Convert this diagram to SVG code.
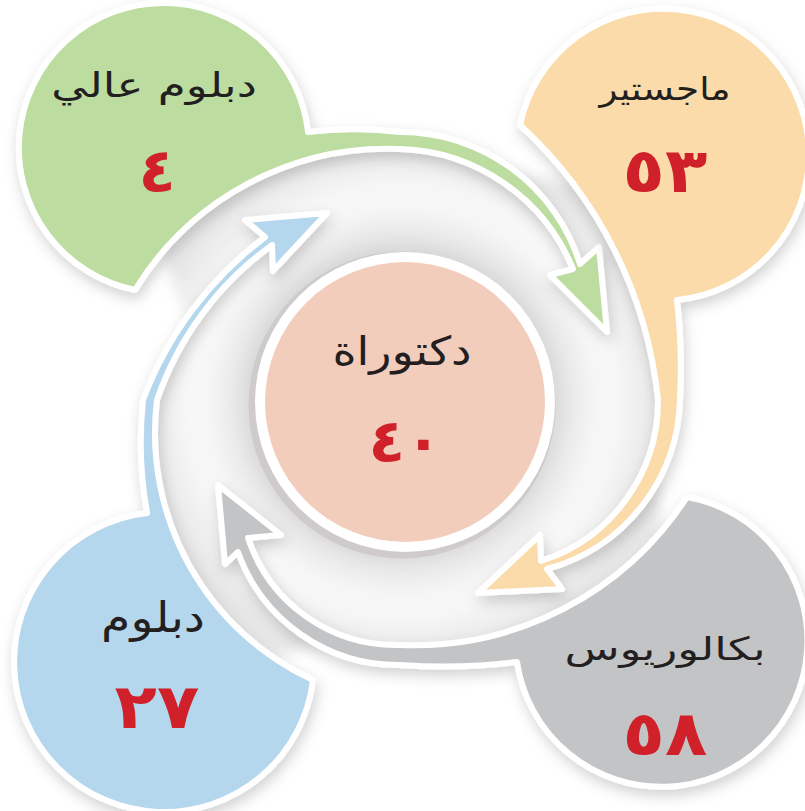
<svg xmlns="http://www.w3.org/2000/svg" width="805" height="811" viewBox="0 0 805 811">
<style>
.petal{stroke:#ffffff;stroke-width:6;stroke-linejoin:round;filter:url(#sh)}
.lbl{font-family:"DejaVu Sans",sans-serif;fill:#231f20;text-anchor:middle}
.num{font-family:"DejaVu Sans",sans-serif;font-weight:bold;fill:#d0202a;text-anchor:middle}
</style>
<defs>
<filter id="sh" x="-20%" y="-20%" width="140%" height="140%">
<feDropShadow dx="2" dy="6" stdDeviation="7" flood-color="#000" flood-opacity="0.18"/>
</filter>
<filter id="soft" x="-10%" y="-10%" width="120%" height="120%">
<feGaussianBlur stdDeviation="7"/>
</filter>
<radialGradient id="ring" gradientUnits="userSpaceOnUse" cx="402" cy="402" r="300">
<stop offset="0.5" stop-color="#d6d6d6"/>
<stop offset="0.54" stop-color="#e4e4e4"/>
<stop offset="0.62" stop-color="#f3f3f3"/>
<stop offset="0.69" stop-color="#f9f9f9"/>
<stop offset="0.78" stop-color="#f0f0f0"/>
<stop offset="0.88" stop-color="#e5e5e5"/>
<stop offset="1" stop-color="#eeeeee"/>
</radialGradient>
</defs>
<rect width="805" height="811" fill="#ffffff"/>
<g id="ring-bg">
<path filter="url(#soft)" fill="url(#ring)" d="M160 245 A303 303 0 0 1 400 141 A194 194 0 0 1 500 170 L585 185 A442 442 0 0 1 668 400 A180 180 0 0 1 654 470 L665 545 A336 336 0 0 1 400 655 A164 164 0 0 1 330 641 L265 660 A282 282 0 0 1 150 400 A340 340 0 0 1 188 325 Z"/>
</g>
<g id="connectors">
<path id="green-arrow" class="petal" fill="#bcdca0" d="M308 132 A400 400 0 0 1 400 132 A188 188 0 0 1 580 264 L599 247 L607 332 L550 275 L573 269 A193 193 0 0 0 400 149 A296 296 0 0 0 135 290 A145 145 0 1 1 308 132 Z"/>
<path id="orange-arrow" class="petal" fill="#fadba9" d="M677 300 A600 600 0 0 1 680 400 A180 180 0 0 1 547 569 L562 589 L478 593 L540 535 L541 561 A168 168 0 0 0 658 400 A432 432 0 0 0 520 125 A146 146 0 1 1 677 300 Z"/>
<path id="gray-arrow" class="petal" fill="#c3c4c6" d="M517 662 A600 600 0 0 1 400 665 A170 170 0 0 1 238 552 L225 564 L218 485 L281 535 L248 538 A156 156 0 0 0 400 645 A326 326 0 0 0 687 497 A146 146 0 1 1 517 662 Z"/>
<path id="blue-arrow" class="petal" fill="#b5d7ee" d="M147 513 A400 400 0 0 1 143 400 A364 364 0 0 1 265 237 L245 220 L327 213 L273 271 L272 245 A319 319 0 0 0 157 400 A272 272 0 0 0 313 680 A150 150 0 1 1 147 513 Z"/>
</g>
<g id="node-center">
<circle cx="402" cy="405" r="153.5" fill="#cfcbcd"/>
<circle cx="405" cy="402" r="150" fill="#ffffff"/>
<circle cx="405" cy="402" r="140" fill="#f3cdbc"/>
<text class="lbl" transform="translate(402 365) scale(1.15 1)" font-size="40">دكتوراة</text>
<text class="num" x="405" y="462" font-size="60">٤٠</text>
</g>
<g id="node-green">
<text class="lbl" transform="translate(154 97) scale(1.33 1)" font-size="34">دبلوم عالي</text>
<text class="num" x="157" y="192" font-size="61">٤</text>
</g>
<g id="node-orange">
<text class="lbl" transform="translate(665 100) scale(1.17 1)" font-size="32">ماجستير</text>
<text class="num" transform="translate(665 192) scale(1.12 1)" font-size="62" letter-spacing="14">٥٣</text>
</g>
<g id="node-blue">
<text class="lbl" transform="translate(153 632) scale(1.13 1)" font-size="42">دبلوم</text>
<text class="num" transform="translate(157 728) scale(1.12 1)" font-size="62" letter-spacing="14">٢٧</text>
</g>
<g id="node-gray">
<text class="lbl" transform="translate(665 660) scale(1.41 1)" font-size="32">بكالوريوس</text>
<text class="num" transform="translate(665 755) scale(1.12 1)" font-size="62" letter-spacing="14">٥٨</text>
</g>
</svg>
